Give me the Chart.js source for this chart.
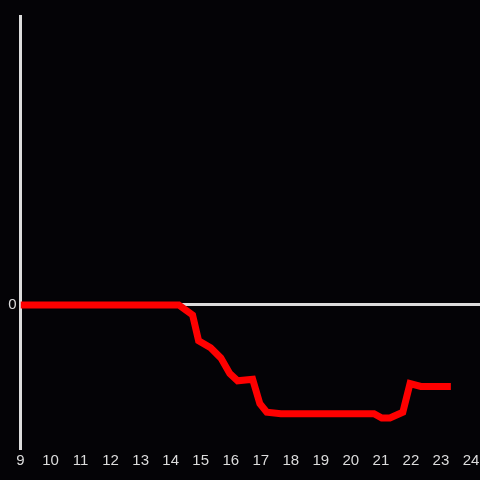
<!DOCTYPE html>
<html>
<head>
<meta charset="utf-8">
<script src="https://cdn.jsdelivr.net/npm/chart.js@4"></script>
<style>
  html, body { margin: 0; padding: 0; background: #040306; }
  #wrap { width: 480px; height: 480px; }
</style>
</head>
<body>
<div id="wrap"><canvas id="chart"></canvas></div>
<script>
// hour of day and relative value (0 = baseline)
const hours = [9, 10, 11, 12, 13, 14, 14.27, 14.73, 14.93, 15.33, 15.67, 15.97, 16.23, 16.73, 16.97, 17.2, 17.67, 18, 19, 20, 20.77, 21.03, 21.3, 21.73, 21.97, 22.33, 23, 23.33];
const values = [0, 0, 0, 0, 0, 0, 0, -0.07, -0.25, -0.3, -0.37, -0.48, -0.53, -0.52, -0.69, -0.75, -0.76, -0.76, -0.76, -0.76, -0.76, -0.79, -0.79, -0.75, -0.55, -0.57, -0.57, -0.57];
const xTicks = [9, 10, 11, 12, 13, 14, 15, 16, 17, 18, 19, 20, 21, 22, 23, 24];
const yTicks = [0];

const axisColor = '#dcdcdc';

const points = hours.map((h, i) => ({ x: h, y: values[i] }));

new Chart(document.getElementById('chart').getContext('2d'), {
    type: 'line',
    data: {
        datasets: [{
            data: points,
            borderColor: '#ff0000',
            borderWidth: 7,
            pointRadius: 0,
            tension: 0,
            fill: false
        }]
    },
    options: {
        responsive: true,
        maintainAspectRatio: false,
        animation: false,
        layout: { padding: { top: 16, right: 0, bottom: 0, left: 0 } },
        plugins: {
            legend: { display: false },
            tooltip: { enabled: false }
        },
        scales: {
            x: {
                type: 'linear',
                min: 9,
                max: 24.3,
                afterBuildTicks: axis => { axis.ticks = xTicks.map(v => ({ value: v })); },
                afterFit: axis => {
                    axis.height = 32;
                    axis.paddingLeft = 0;
                    axis.paddingRight = 0;
                },
                border: { display: false },
                grid: { display: false, drawTicks: false },
                ticks: {
                    color: axisColor,
                    padding: 4,
                    maxRotation: 0,
                    autoSkip: false,
                    font: { family: 'Liberation Sans', size: 15 }
                }
            },
            y: {
                min: -1,
                max: 2.02,
                afterBuildTicks: axis => { axis.ticks = yTicks.map(v => ({ value: v })); },
                afterFit: axis => { axis.width = 20.5; },
                border: { display: true, color: axisColor, width: 3 },
                grid: {
                    drawTicks: false,
                    color: ctx => (ctx.tick && ctx.tick.value === 0 ? axisColor : 'rgba(0,0,0,0)'),
                    lineWidth: 3
                },
                ticks: {
                    color: axisColor,
                    padding: 4,
                    font: { family: 'Liberation Sans', size: 15 }
                }
            }
        }
    }
});
</script>
</body>
</html>
